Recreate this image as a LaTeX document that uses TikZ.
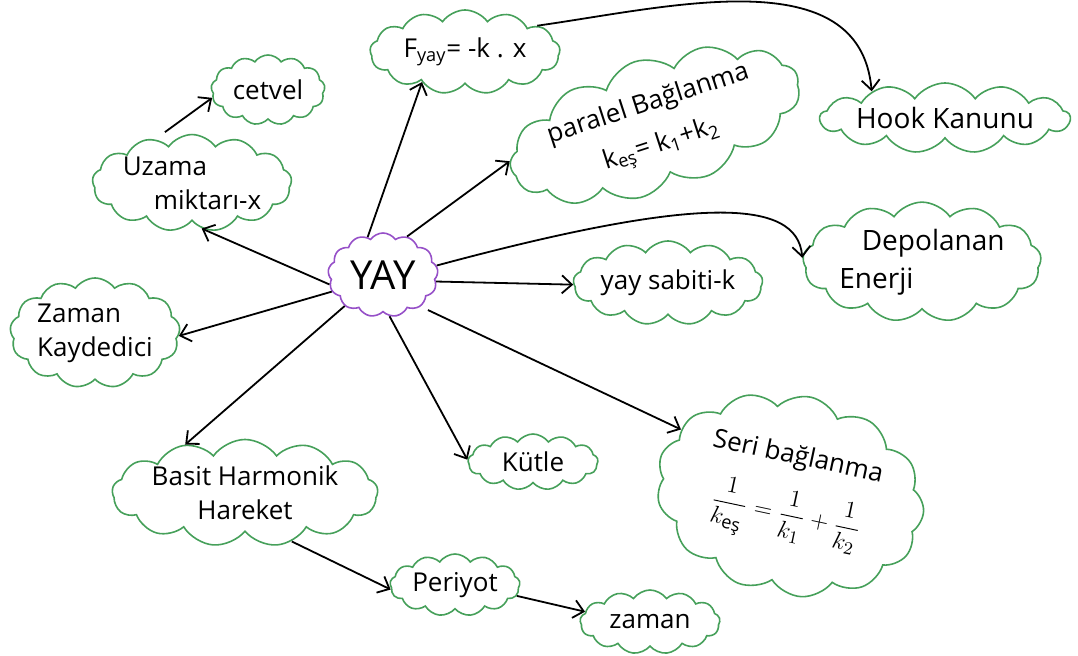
\documentclass[tikz,border=0pt]{standalone}
\usepackage{fontspec}
\usepackage{amsmath}
\setmainfont{Open Sans}
\usetikzlibrary{shapes.symbols,arrows.meta}
\definecolor{cgreen}{RGB}{70,160,90}
\definecolor{cpurple}{RGB}{150,80,200}
\begin{document}
\begin{tikzpicture}[x=0.5pt,y=-0.5pt,
  cl/.style={cloud, draw=cgreen, line width=0.8pt, cloud puffs=13, cloud puff arc=110,
    cloud ignores aspect, inner sep=0pt, align=center, font=\fontsize{13}{17}\selectfont},
  arr/.style={-{Straight Barb[length=5pt,width=9pt]}, line width=0.9pt},
]
\useasboundingbox (0,0) rectangle (1078,656);

\node[cl, draw=cpurple, minimum width=55pt, minimum height=42pt, font=\fontsize{20}{22}\selectfont] (yay) at (383,275) {YAY};
\node[cl, minimum width=95pt, minimum height=42pt] (fyay) at (465,52) {F\textsubscript{yay}= -k . x};
\node[cl, minimum width=57pt, minimum height=35pt] (cetvel) at (268,90) {cetvel};
\node[cl, minimum width=95pt, minimum height=36pt, align=left] (uzama) at (192,183) {Uzama\\\hspace{1.2em}miktarı-x};
\node[cl, rotate=18, minimum width=145pt, minimum height=60pt, font=\fontsize{13}{21}\selectfont] (paralel) at (655,125) {paralel Bağlanma\\k\textsubscript{eş}= k\textsubscript{1}+k\textsubscript{2}};
\node[cl, minimum width=125pt, minimum height=35pt, font=\fontsize{14}{17}\selectfont] (hook) at (945,118) {Hook Kanunu};
\node[cl, minimum width=117pt, minimum height=54pt, align=left, font=\fontsize{14}{19}\selectfont] (depo) at (922,262) {\hspace{0.8em}Depolanan\\Enerji};
\node[cl, minimum width=90pt, minimum height=42pt] (sabit) at (668,283) {yay sabiti-k};
\node[cl, minimum width=85pt, minimum height=55pt, align=left] (zamank) at (95,333) {Zaman\\Kaydedici};
\node[cl, minimum width=125pt, minimum height=52pt] (basit) at (245,493) {Basit Harmonik\\Hareket};
\node[cl, minimum width=65pt, minimum height=28pt] (kutle) at (533,462) {Kütle};
\node[cl, rotate=-12, minimum width=135pt, minimum height=100pt] (seri) at (790,495) {Seri bağlanma\\[9pt]$\dfrac{1}{k_{\text{eş}}}=\dfrac{1}{k_1}+\dfrac{1}{k_2}$};
\node[cl, minimum width=65pt, minimum height=31pt] (periyot) at (455,585) {Periyot};
\node[cl, minimum width=70pt, minimum height=32pt] (zaman) at (650,622) {zaman};

\draw[arr] (yay.112) -- (fyay.215);
\draw[arr] (yay.190) -- (uzama.282);
\draw[arr, shorten <=6pt] (uzama.130) -- (cetvel.188);
\draw[arr] (yay.58) -- (paralel.176);
\draw[arr] (fyay.20) to[out=8,in=95] (hook.160);
\draw[arr] (yay.10) .. controls +(260,-70) and +(-5,-60) .. (depo.178);
\draw[arr] (yay.353) -- (sabit.181);
\draw[arr] (yay.198) -- (zamank.358);
\draw[arr] (yay.219) -- (basit.141);
\draw[arr] (yay.279) -- (kutle.178);
\draw[arr, shorten <=4pt] (yay.320) -- (seri.161);
\draw[arr] (basit.314) -- (periyot.184);
\draw[arr] (periyot.350) -- (zaman.171);
\end{tikzpicture}
\end{document}
